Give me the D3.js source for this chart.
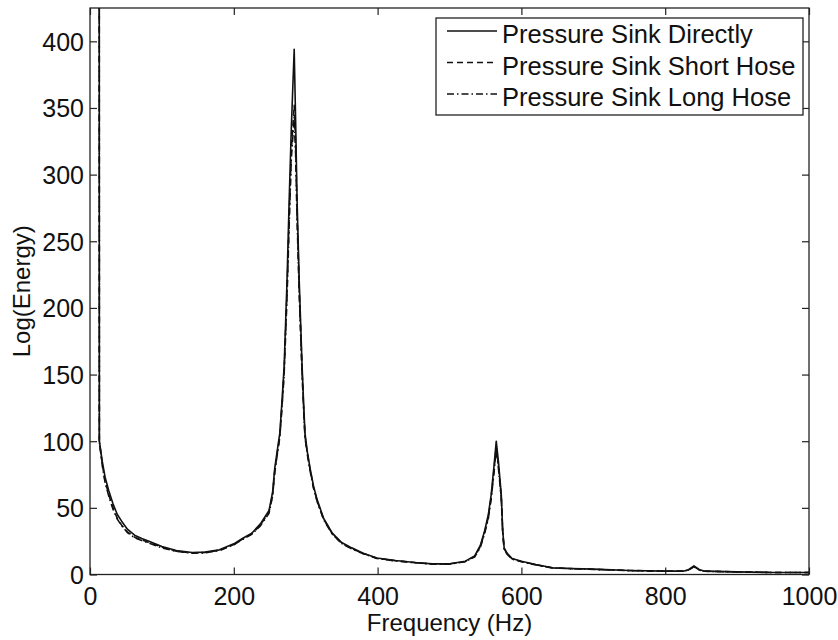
<!DOCTYPE html>
<html>
<head>
<meta charset="utf-8">
<script src="https://cdn.jsdelivr.net/npm/d3@7/dist/d3.min.js"></script>
<style>
  html, body { margin: 0; padding: 0; background: #fff; }
  svg { display: block; }
  text { font-family: "Liberation Sans", Arial, Helvetica, sans-serif; fill: #111; }
</style>
</head>
<body>
<svg id="chart" width="838" height="640"></svg>
<script>
// ---------- data ----------
const freq = [12, 13, 17, 21, 26, 32, 38, 44, 52, 62, 72, 82, 100, 120, 142, 160, 180, 200, 212, 225, 237, 249, 254, 257, 261, 264, 267, 270, 274, 277, 280, 284, 286, 288, 291, 295, 297, 299, 302, 306, 311, 316, 325, 337, 350, 364, 380, 399, 425, 452, 476, 500, 522, 535, 543, 549, 554, 558, 562, 565, 568, 572, 574, 576, 580, 587, 600, 620, 643, 670, 700, 750, 800, 825, 832, 840, 848, 855, 900, 950, 1000];

const directly = [3000, 100, 85, 73, 63, 53, 45, 40, 34, 29.5, 27, 25, 21, 18, 16.5, 16.8, 18.5, 23, 27, 31, 38, 48, 62, 80, 95, 106, 130, 156, 220, 281, 335, 394, 340, 281, 220, 156, 130, 106, 93, 80, 66, 56, 42, 31, 24, 20, 16, 12.4, 10.5, 9, 8, 8, 10, 14, 22, 33, 45, 60, 82, 100, 85, 60, 33, 20, 16, 12, 10, 7.5, 5, 4.5, 4, 3, 2.5, 2.5, 3.5, 6.5, 3.5, 2.5, 2, 1.5, 1.5];

const shortHose = [3000, 100, 83, 70, 60, 50, 42, 37, 32, 28, 26, 24, 20.5, 17.5, 16.2, 16.5, 18.2, 22.5, 26.5, 30.5, 37, 47, 60, 78, 93, 104, 127, 152, 212, 268, 318, 352, 322, 272, 214, 152, 127, 104, 92, 79, 65, 55, 41.5, 30.5, 23.5, 19.5, 15.8, 12.2, 10.3, 8.9, 7.9, 7.9, 9.8, 13.5, 21, 32, 43, 58, 79, 96, 82, 58, 32, 19.5, 15.5, 11.8, 9.8, 7.3, 5, 4.4, 3.9, 3, 2.5, 2.5, 3.3, 6, 3.3, 2.5, 2, 1.5, 1.5];

const longHose = [3000, 100, 82, 69, 59, 49, 41.5, 36.5, 31.5, 27.5, 25.5, 23.5, 20, 17.3, 16, 16.3, 18, 22.3, 26.2, 30.2, 36.5, 46, 59, 77, 92, 103, 125, 150, 208, 262, 312, 343, 315, 266, 210, 150, 125, 103, 91, 78, 64.5, 54.5, 41, 30.2, 23.3, 19.3, 15.6, 12, 10.2, 8.8, 7.8, 7.8, 9.6, 13.2, 20.5, 31, 42, 57, 77, 94, 80, 57, 31, 19.2, 15.3, 11.6, 9.6, 7.2, 4.9, 4.3, 3.8, 2.9, 2.4, 2.4, 3.2, 5.8, 3.2, 2.4, 1.9, 1.5, 1.5];

const xTicks = [0, 200, 400, 600, 800, 1000];
const yTicks = [0, 50, 100, 150, 200, 250, 300, 350, 400];
const seriesNames = ["Pressure Sink Directly", "Pressure Sink Short Hose", "Pressure Sink Long Hose"];
const xDomain = [0, 1000];
const yDomain = [0, 425];
const xLabel = "Frequency (Hz)";
const yLabel = "Log(Energy)";

// ---------- layout ----------
const svg = d3.select("#chart");
const L = 90, R = 809, T = 8, B = 574.5;
const x = d3.scaleLinear().domain(xDomain).range([L, R]);
const y = d3.scaleLinear().domain(yDomain).range([B, T]);

const series = [
  { name: seriesNames[0], values: directly, dash: null },
  { name: seriesNames[1], values: shortHose, dash: "6,4" },
  { name: seriesNames[2], values: longHose, dash: "7,3,1.5,3" }
];

svg.append("defs").append("clipPath").attr("id", "clip")
  .append("rect").attr("x", L).attr("y", T).attr("width", R - L).attr("height", B - T);

// frame
svg.append("rect").attr("x", L).attr("y", T).attr("width", R - L).attr("height", B - T)
  .attr("fill", "none").attr("stroke", "#222").attr("stroke-width", 1.3);

// axes with inward ticks
const tickLen = 7;
const axB = svg.append("g").attr("transform", `translate(0,${B})`)
  .call(d3.axisBottom(x).tickValues(xTicks).tickSizeInner(-tickLen).tickSizeOuter(0).tickPadding(13).tickFormat(d3.format("d")));
const axT = svg.append("g").attr("transform", `translate(0,${T})`)
  .call(d3.axisTop(x).tickValues(xTicks).tickSizeInner(-tickLen).tickSizeOuter(0).tickFormat(""));
const axL = svg.append("g").attr("transform", `translate(${L},0)`)
  .call(d3.axisLeft(y).tickValues(yTicks).tickSizeInner(-tickLen).tickSizeOuter(0).tickPadding(6).tickFormat(d3.format("d")));
const axR = svg.append("g").attr("transform", `translate(${R},0)`)
  .call(d3.axisRight(y).tickValues(yTicks).tickSizeInner(-tickLen).tickSizeOuter(0).tickFormat(""));

[axB, axT, axL, axR].forEach(g => {
  g.select(".domain").remove();
  g.selectAll(".tick line").attr("stroke", "#222").attr("stroke-width", 1.2);
  g.selectAll("text").style("font-size", "25px").attr("fill", "#111")
    .style("font-family", "'Liberation Sans', Arial, Helvetica, sans-serif");
});
axB.selectAll(".tick text").attr("dy", "0.71em");
axL.selectAll(".tick text").attr("dy", "0.36em");

// axis labels
svg.append("text").attr("x", (L + R) / 2).attr("y", 631).attr("text-anchor", "middle")
  .style("font-size", "24px").text(xLabel);
svg.append("text").attr("transform", `translate(30,${(T + B) / 2}) rotate(-90)`)
  .attr("text-anchor", "middle").style("font-size", "24px").text(yLabel);

// lines
const line = d3.line().x((d, i) => x(freq[i])).y(d => y(d));
const plot = svg.append("g").attr("clip-path", "url(#clip)");
series.slice().reverse().forEach(s => {
  plot.append("path").datum(s.values).attr("d", line)
    .attr("fill", "none").attr("stroke", "#111").attr("stroke-width", 1.6)
    .attr("stroke-linejoin", "round")
    .attr("stroke-dasharray", s.dash);
});

// legend
const lg = svg.append("g");
const lgX = 436, lgY = 18, lgW = 367, lgH = 97;
lg.append("rect").attr("x", lgX).attr("y", lgY).attr("width", lgW).attr("height", lgH)
  .attr("fill", "#fff").attr("stroke", "#222").attr("stroke-width", 1.3);
series.forEach((s, i) => {
  const base = 43 + i * 31.5;
  lg.append("line").attr("x1", 447).attr("x2", 497).attr("y1", base - 12).attr("y2", base - 12)
    .attr("stroke", "#111").attr("stroke-width", 1.4).attr("stroke-dasharray", s.dash);
  lg.append("text").attr("x", 502).attr("y", base).style("font-size", "25.5px").text(s.name);
});
</script>
</body>
</html>
